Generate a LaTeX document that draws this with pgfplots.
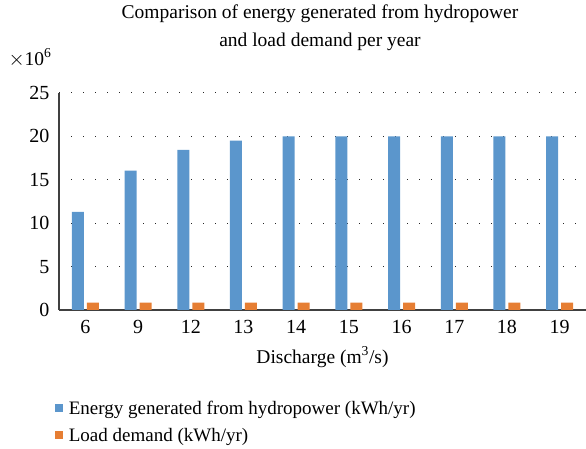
\documentclass[border=0pt]{standalone}
\usepackage{pgfplots}
\pgfplotsset{compat=1.18}
\usepackage{fontspec}
\setmainfont{Liberation Serif}
\definecolor{eblue}{HTML}{5B96CC}
\definecolor{eorange}{HTML}{E67E33}
\begin{document}
\begin{tikzpicture}[x=1pt,y=1pt]
\path[use as bounding box] (0,0) rectangle (586,449);
\begin{axis}[
  at={(59pt,139pt)}, anchor=south west,
  scale only axis, width=527pt, height=217pt,
  ybar=3pt, bar width=12pt,
  xmin=-0.5, xmax=9.5, ymin=0, ymax=25,
  xtick=data, xticklabels={6,9,12,13,14,15,16,17,18,19},
  ytick={0,5,10,15,20,25},
  axis x line*=bottom, axis y line*=left,
  axis line style={draw=black!75, line width=1.1pt, -},
  major tick length=0pt,
  ymajorgrids, grid style={black!85, line width=1pt, dash pattern=on 1pt off 11pt},
  /pgf/number format/assume math mode=true,
  tick label style={font=\fontsize{20}{22}\selectfont},
  yticklabel style={xshift=-6pt},
  xticklabel style={yshift=-7pt},
  xlabel={Discharge (m\textsuperscript{3}/s)},
  xlabel style={font=\fontsize{19.5}{22}\selectfont, yshift=-6pt},
  legend style={draw=none, at={(-0.014,-0.40)}, anchor=north west,
    font=\fontsize{19}{22}\selectfont, row sep=8pt, cells={anchor=west},
    /tikz/every even column/.append style={column sep=0pt}},
  legend cell align=left,
  legend image code/.code={\fill[#1] (0pt,-4pt) rectangle (8pt,4pt);},
  every axis legend/.append style={nodes={inner xsep=6pt}},
  every axis plot/.append style={draw=none},
]
\addplot[fill=eblue] coordinates {(0,11.3) (1,16.05) (2,18.45) (3,19.5) (4,20) (5,20) (6,20) (7,20) (8,20) (9,20)};
\addplot[fill=eorange] coordinates {(0,0.85) (1,0.85) (2,0.85) (3,0.85) (4,0.85) (5,0.85) (6,0.85) (7,0.85) (8,0.85) (9,0.85)};
\legend{Energy generated from hydropower (kWh/yr), Load demand (kWh/yr)}
\end{axis}
\node[font=\fontsize{19.5}{28}\selectfont, align=center] at (320,421) {Comparison of energy generated from hydropower\\and load demand per year};
\node[font=\fontsize{19.5}{22}\selectfont, anchor=west] at (5,391) {$\times$10\textsuperscript{6}};
\end{tikzpicture}
\end{document}
